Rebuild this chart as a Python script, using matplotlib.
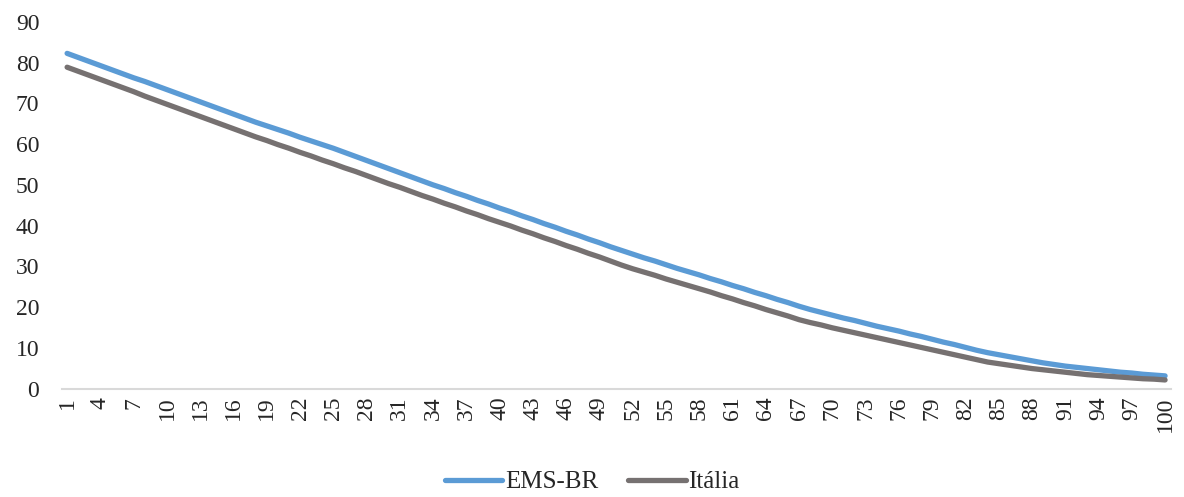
import matplotlib.pyplot as plt

plt.rcParams['font.family'] = ['Liberation Serif', 'DejaVu Serif']

idade = list(range(1, 101))

ems_br = [82.3, 81.3, 80.3, 79.3, 78.3, 77.3, 76.3, 75.4, 74.4, 73.4,
          72.4, 71.4, 70.4, 69.4, 68.4, 67.4, 66.4, 65.4, 64.5, 63.6,
          62.7, 61.7, 60.8, 59.9, 59.0, 58.0, 57.0, 56.0, 55.0, 54.0,
          53.0, 52.0, 51.0, 50.0, 49.1, 48.1, 47.2, 46.2, 45.3, 44.3,
          43.4, 42.4, 41.5, 40.5, 39.6, 38.6, 37.7, 36.7, 35.8, 34.8,
          33.9, 33.0, 32.1, 31.3, 30.4, 29.5, 28.7, 27.9, 27.0, 26.2,
          25.3, 24.5, 23.6, 22.8, 21.9, 21.1, 20.2, 19.4, 18.7, 18.0,
          17.3, 16.7, 16.0, 15.3, 14.7, 14.1, 13.4, 12.8, 12.1, 11.4,
          10.8, 10.1, 9.4, 8.8, 8.3, 7.8, 7.3, 6.8, 6.3, 5.9,
          5.5, 5.2, 4.9, 4.6, 4.3, 4.0, 3.8, 3.5, 3.3, 3.1]

italia = [78.9, 77.9, 76.9, 75.9, 74.9, 73.9, 72.9, 71.8, 70.8, 69.8,
          68.8, 67.8, 66.8, 65.8, 64.8, 63.8, 62.8, 61.8, 60.9, 59.9,
          59.0, 58.0, 57.1, 56.1, 55.2, 54.2, 53.3, 52.3, 51.3, 50.3,
          49.4, 48.4, 47.4, 46.5, 45.5, 44.6, 43.6, 42.7, 41.7, 40.8,
          39.9, 38.9, 38.0, 37.0, 36.1, 35.1, 34.2, 33.2, 32.3, 31.3,
          30.3, 29.4, 28.6, 27.8, 26.9, 26.1, 25.3, 24.5, 23.7, 22.8,
          22.0, 21.1, 20.3, 19.4, 18.6, 17.8, 16.9, 16.2, 15.6, 14.9,
          14.3, 13.7, 13.1, 12.5, 11.9, 11.3, 10.7, 10.1, 9.5, 8.9,
          8.3, 7.7, 7.1, 6.5, 6.1, 5.7, 5.3, 4.9, 4.6, 4.3,
          4.0, 3.7, 3.4, 3.2, 3.0, 2.8, 2.6, 2.4, 2.3, 2.1]

y_ticks = [0, 10, 20, 30, 40, 50, 60, 70, 80, 90]
x_ticks = idade[::3]

texto = '#262626'

fig = plt.figure(figsize=(11.84, 4.97), dpi=100)
ax = fig.add_axes([0.052, 0.2183, 0.9367, 0.7374])

ax.plot(idade, ems_br, color='#5B9BD5', lw=3.8, label='EMS-BR', solid_capstyle='round')
ax.plot(idade, italia, color='#767171', lw=3.8, label='Itália', solid_capstyle='round')

ax.set_xlim(0.5, 100.5)
ax.set_ylim(0, 90)
ax.set_yticks(y_ticks)
ax.set_xticks(x_ticks)
ax.set_xticklabels([str(v) for v in x_ticks], rotation=90)

for side in ['top', 'right', 'left']:
    ax.spines[side].set_visible(False)
ax.spines['bottom'].set_color('#D9D9D9')
ax.spines['bottom'].set_linewidth(1.5)

ax.tick_params(axis='y', length=0, pad=16, labelsize=17, labelcolor=texto)
ax.tick_params(axis='x', length=0, pad=6, labelsize=17, labelcolor=texto)

fig.legend(loc='lower center', bbox_to_anchor=(0.5, -0.038), ncol=2, frameon=False,
           fontsize=18, handlelength=2.3, handletextpad=0.1, columnspacing=1.2,
           labelcolor=texto)

fig.savefig('out.png', dpi=100)
